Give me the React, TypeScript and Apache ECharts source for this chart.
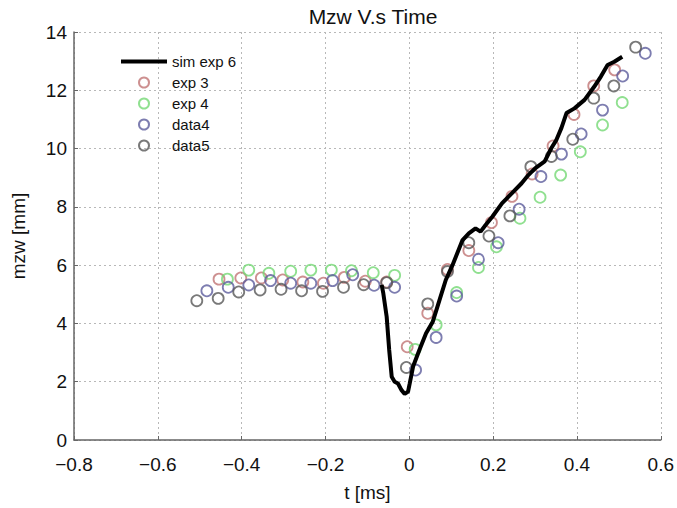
import React, { useEffect, useRef } from "react";
import * as echarts from "echarts";

const xTicks = { min: -0.8, max: 0.6, interval: 0.2 };
const yTicks = { min: 0, max: 14, interval: 2 };

const simX = [-0.066, -0.062, -0.054, -0.048, -0.042, -0.035, -0.027, -0.019, -0.011, -0.003, 0.001, 0.009, 0.024, 0.04, 0.056, 0.072, 0.087, 0.103, 0.127, 0.142, 0.158, 0.17, 0.182, 0.198, 0.221, 0.245, 0.268, 0.284, 0.3, 0.323, 0.339, 0.351, 0.363, 0.375, 0.394, 0.418, 0.441, 0.457, 0.473, 0.489, 0.508];
const simY = [5.32, 5.03, 4.23, 3.09, 2.17, 2.0, 1.94, 1.72, 1.58, 1.66, 1.94, 2.52, 3.09, 3.66, 4.06, 4.8, 5.49, 6.0, 6.86, 7.09, 7.26, 7.15, 7.38, 7.66, 8.12, 8.47, 8.81, 9.09, 9.32, 9.56, 10.02, 10.3, 10.71, 11.22, 11.38, 11.67, 12.12, 12.47, 12.87, 12.98, 13.15];

const exp3X = [-0.454, -0.402, -0.353, -0.302, -0.254, -0.205, -0.155, -0.105, -0.054, -0.005, 0.044, 0.091, 0.142, 0.196, 0.245, 0.293, 0.343, 0.393, 0.44, 0.49];
const exp3Y = [5.52, 5.56, 5.56, 5.49, 5.42, 5.38, 5.58, 5.45, 5.42, 3.2, 4.35, 5.85, 6.5, 7.46, 8.36, 9.13, 10.09, 11.17, 12.15, 12.7];

const exp4X = [-0.434, -0.383, -0.335, -0.283, -0.235, -0.186, -0.138, -0.086, -0.035, 0.014, 0.064, 0.113, 0.165, 0.208, 0.264, 0.312, 0.361, 0.408, 0.461, 0.508];
const exp4Y = [5.52, 5.83, 5.72, 5.79, 5.83, 5.83, 5.81, 5.74, 5.65, 3.11, 3.95, 5.06, 5.92, 6.63, 7.61, 8.33, 9.09, 9.89, 10.81, 11.58];

const data4X = [-0.483, -0.432, -0.383, -0.331, -0.283, -0.235, -0.183, -0.135, -0.084, -0.035, 0.015, 0.064, 0.113, 0.165, 0.212, 0.262, 0.314, 0.363, 0.41, 0.461, 0.509, 0.563];
const data4Y = [5.12, 5.24, 5.32, 5.47, 5.38, 5.38, 5.47, 5.67, 5.31, 5.24, 2.4, 3.52, 4.94, 6.2, 6.77, 7.92, 9.04, 9.81, 10.5, 11.32, 12.49, 13.27];

const data5X = [-0.507, -0.456, -0.407, -0.356, -0.306, -0.257, -0.207, -0.157, -0.109, -0.054, -0.007, 0.044, 0.091, 0.142, 0.19, 0.24, 0.29, 0.339, 0.39, 0.44, 0.488, 0.54];
const data5Y = [4.78, 4.86, 5.08, 5.15, 5.17, 5.12, 5.1, 5.24, 5.33, 5.4, 2.49, 4.67, 5.78, 6.77, 7.0, 7.69, 9.38, 9.73, 10.32, 11.73, 12.15, 13.48];

const legendNames = ["sim exp 6", "exp 3", "exp 4", "data4", "data5"];

const FONT = "Liberation Sans";

const zip = (xs: number[], ys: number[]) => xs.map((x, i) => [x, ys[i]]);

const scatter = (name: string, xs: number[], ys: number[], color: string) => ({
  name,
  type: "scatter",
  data: zip(xs, ys),
  symbol: "circle",
  symbolSize: 11,
  itemStyle: { color: "rgba(0,0,0,0)", borderColor: color, borderWidth: 1.8 },
  z: 2,
});

export default function App() {
  const ref = useRef<HTMLDivElement>(null);
  useEffect(() => {
    if (!ref.current) return;
    const chart = echarts.init(ref.current, undefined, { renderer: "svg" });
    const gridLine = { show: true, lineStyle: { color: "#b8b8b8", type: [2, 3], width: 1 } };
    chart.setOption({
      animation: false,
      backgroundColor: "#ffffff",
      title: {
        text: "Mzw V.s Time",
        left: 368,
        textAlign: "center",
        top: 1,
        textStyle: { fontFamily: FONT, fontSize: 21, fontWeight: "normal", color: "#111" },
      },
      legend: {
        orient: "vertical",
        left: 116,
        top: 49,
        itemWidth: 46,
        itemHeight: 10,
        itemGap: 6,
        textStyle: { fontFamily: FONT, fontSize: 15, color: "#111" },
        data: legendNames.map((n, i) =>
          i === 0 ? { name: n, icon: "path://M0,0 L46,0 L46,4 L0,4 Z" } : { name: n }
        ),
      },
      grid: { left: 74, right: 10, top: 32, bottom: 68 },
      xAxis: {
        type: "value",
        ...xTicks,
        name: "t [ms]",
        nameLocation: "middle",
        nameGap: 43,
        nameTextStyle: { fontFamily: FONT, fontSize: 19, color: "#111" },
        axisLine: { show: true, onZero: false, lineStyle: { color: "#666", width: 1.5 } },
        axisTick: { show: true, inside: true, length: 4, lineStyle: { color: "#666" } },
        axisLabel: {
          fontFamily: FONT,
          fontSize: 19,
          color: "#111",
          margin: 15,
          formatter: (v: number) => (Math.abs(v) < 1e-9 ? "0" : (v < 0 ? "\u2212" : "") + Math.abs(v).toFixed(1)),
        },
        splitLine: gridLine,
      },
      yAxis: {
        type: "value",
        ...yTicks,
        name: "mzw [mm]",
        nameLocation: "middle",
        nameGap: 46,
        nameTextStyle: { fontFamily: FONT, fontSize: 19, color: "#111" },
        axisLine: { show: true, onZero: false, lineStyle: { color: "#666", width: 1.5 } },
        axisTick: { show: true, inside: true, length: 4, lineStyle: { color: "#666" } },
        axisLabel: { fontFamily: FONT, fontSize: 19, color: "#111", margin: 7 },
        splitLine: gridLine,
      },
      series: [
        {
          name: "sim exp 6",
          type: "line",
          data: zip(simX, simY),
          symbol: "none",
          lineStyle: { color: "#000", width: 4 },
          itemStyle: { color: "#000" },
          z: 3,
        },
        scatter("exp 3", exp3X, exp3Y, "#c07474"),
        scatter("exp 4", exp4X, exp4Y, "#74d874"),
        scatter("data4", data4X, data4Y, "#5c5c9c"),
        scatter("data5", data5X, data5Y, "#585858"),
      ],
    });
    return () => chart.dispose();
  }, []);
  return <div ref={ref} style={{ width: 677, height: 508, position: "absolute", left: 0, top: 0 }} />;
}
